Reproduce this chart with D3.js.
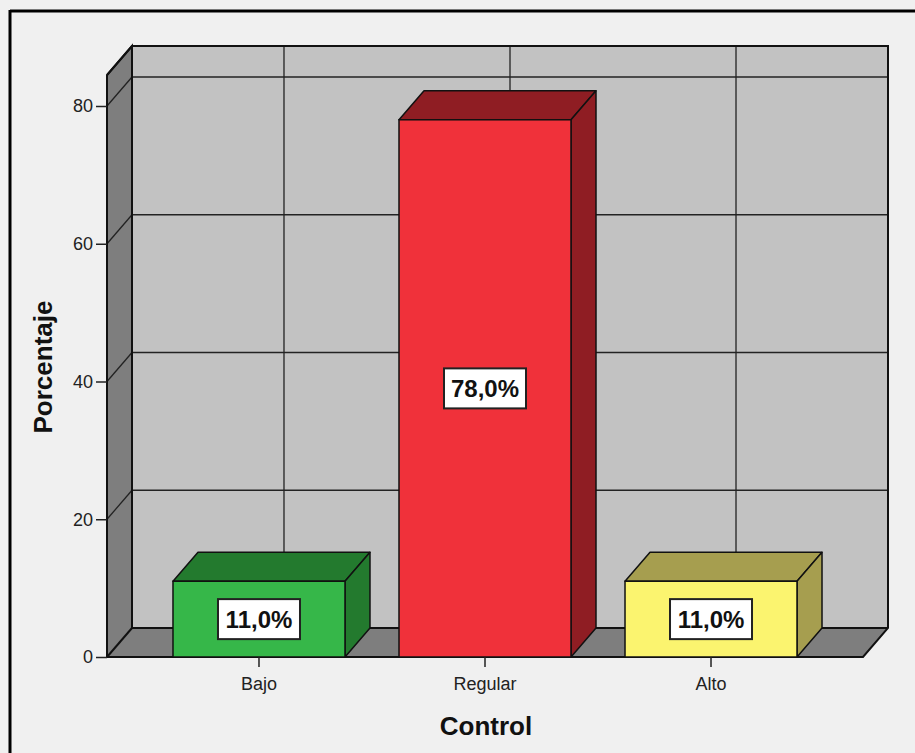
<!DOCTYPE html>
<html>
<head>
<meta charset="utf-8">
<script src="https://cdn.jsdelivr.net/npm/d3@7"></script>
<style>
  html, body { margin: 0; padding: 0; background: #f0f0f0; }
  svg { display: block; font-family: Arial, "Liberation Sans", sans-serif; }
</style>
</head>
<body>
<svg id="chart" width="915" height="753"></svg>
<script>
// Data
const categories = ["Bajo", "Regular", "Alto"];
const percentages = [11.0, 78.0, 11.0];
const yTicks = [0, 20, 40, 60, 80];
const frontColors = ["#36b749", "#f0313a", "#fbf46f"];
const shadeColors = ["#237a2e", "#8f1d23", "#a69e4f"];

const svg = d3.select("#chart");

// Frame
const frame = svg.append("g");
frame.append("line").attr("x1", 10).attr("y1", 11).attr("x2", 915).attr("y2", 11)
  .attr("stroke", "#000").attr("stroke-width", 3);
frame.append("line").attr("x1", 10).attr("y1", 10).attr("x2", 10).attr("y2", 753)
  .attr("stroke", "#000").attr("stroke-width", 3);

// Layout of the 3D box
const plotLeft = 107, plotRight = 863, base = 657;
const dx = 25, dy = -29;
const yMax = 84.5;

const y = d3.scaleLinear().domain([0, 80]).range([base, 106]);
const x = d3.scaleBand().domain(categories).range([plotLeft, plotRight])
  .paddingInner(0.239).paddingOuter(0.292);

const wallTop = y(yMax);
const wallFill = "#c2c2c2", sideFill = "#7e7e7e", edge = "#111";

const box = svg.append("g");
// back wall
box.append("rect").attr("x", plotLeft + dx).attr("y", wallTop + dy)
  .attr("width", plotRight - plotLeft).attr("height", base - wallTop)
  .attr("fill", wallFill);
// side wall
box.append("polygon")
  .attr("points", [[plotLeft, wallTop], [plotLeft + dx, wallTop + dy], [plotLeft + dx, base + dy], [plotLeft, base]].join(" "))
  .attr("fill", sideFill);
// floor
box.append("polygon")
  .attr("points", [[plotLeft, base], [plotLeft + dx, base + dy], [plotRight + dx, base + dy], [plotRight, base]].join(" "))
  .attr("fill", sideFill);

// gridlines on back and side walls
const grid = svg.append("g").attr("stroke", "#222").attr("stroke-width", 1.3);
yTicks.filter(t => t > 0).forEach(t => {
  grid.append("line").attr("x1", plotLeft + dx).attr("x2", plotRight + dx)
    .attr("y1", y(t) + dy).attr("y2", y(t) + dy);
  grid.append("line").attr("x1", plotLeft).attr("x2", plotLeft + dx)
    .attr("y1", y(t)).attr("y2", y(t) + dy);
});
categories.forEach(c => {
  const cx = x(c) + x.bandwidth() / 2 + dx;
  grid.append("line").attr("x1", cx).attr("x2", cx)
    .attr("y1", wallTop + dy).attr("y2", base + dy);
});

// box edges
const edges = svg.append("g").attr("stroke", edge).attr("stroke-width", 2).attr("fill", "none");
edges.append("polyline").attr("points", [[plotLeft, base], [plotLeft, wallTop], [plotLeft + dx, wallTop + dy], [plotRight + dx, wallTop + dy], [plotRight + dx, base + dy], [plotRight, base], [plotLeft, base]].join(" "));
edges.append("polyline").attr("points", [[plotLeft, wallTop], [plotLeft + dx, wallTop + dy], [plotLeft + dx, base + dy], [plotRight + dx, base + dy]].join(" "));
edges.append("line").attr("x1", plotLeft).attr("y1", base).attr("x2", plotLeft + dx).attr("y2", base + dy);

// bars
const bars = svg.append("g").selectAll("g").data(categories).join("g");
bars.each(function (c, i) {
  const g = d3.select(this);
  const v = percentages[i];
  const x0 = x(c), x1 = x(c) + x.bandwidth(), yv = y(v);
  g.append("polygon")
    .attr("points", [[x0, yv], [x0 + dx, yv + dy], [x1 + dx, yv + dy], [x1, yv]].join(" "))
    .attr("fill", shadeColors[i]).attr("stroke", edge).attr("stroke-width", 1.5).attr("stroke-linejoin", "round");
  g.append("polygon")
    .attr("points", [[x1, yv], [x1 + dx, yv + dy], [x1 + dx, base + dy], [x1, base]].join(" "))
    .attr("fill", shadeColors[i]).attr("stroke", edge).attr("stroke-width", 1.5).attr("stroke-linejoin", "round");
  g.append("rect").attr("x", x0).attr("y", yv).attr("width", x1 - x0).attr("height", base - yv)
    .attr("fill", frontColors[i]).attr("stroke", edge).attr("stroke-width", 1.5);

  // value label
  const cx = (x0 + x1) / 2, cy = y(v / 2);
  const bw = 82, bh = 40;
  g.append("rect").attr("x", cx - bw / 2).attr("y", cy - bh / 2).attr("width", bw).attr("height", bh)
    .attr("fill", "#fff").attr("stroke", "#222").attr("stroke-width", 2);
  g.append("text").attr("x", cx).attr("y", cy).attr("dy", "0.36em")
    .attr("text-anchor", "middle").attr("font-size", 24).attr("font-weight", "bold")
    .attr("fill", "#111")
    .text(v.toFixed(1).replace(".", ",") + "%");
});

// y axis
const yAxis = d3.axisLeft(y).tickValues(yTicks).tickSize(11).tickPadding(3);
const ya = svg.append("g").attr("transform", `translate(${plotLeft},0)`).call(yAxis);
ya.select(".domain").remove();
ya.selectAll(".tick line").attr("stroke", "#222").attr("stroke-width", 1.5);
ya.selectAll(".tick text").attr("font-size", 18).attr("fill", "#222")
  .attr("font-family", "Arial, 'Liberation Sans', sans-serif");

// x axis
const xAxis = d3.axisBottom(x).tickSize(10).tickPadding(10);
const xa = svg.append("g").attr("transform", `translate(0,${base})`).call(xAxis);
xa.select(".domain").remove();
xa.selectAll(".tick line").attr("stroke", "#222").attr("stroke-width", 1.5);
xa.selectAll(".tick text").attr("font-size", 18).attr("fill", "#222")
  .attr("font-family", "Arial, 'Liberation Sans', sans-serif");

// axis titles
svg.append("text").attr("transform", "translate(52,367) rotate(-90)")
  .attr("text-anchor", "middle").attr("font-size", 26).attr("font-weight", "bold").attr("fill", "#111")
  .text("Porcentaje");
svg.append("text").attr("x", 486).attr("y", 735)
  .attr("text-anchor", "middle").attr("font-size", 26).attr("font-weight", "bold").attr("fill", "#111")
  .text("Control");
</script>
</body>
</html>
